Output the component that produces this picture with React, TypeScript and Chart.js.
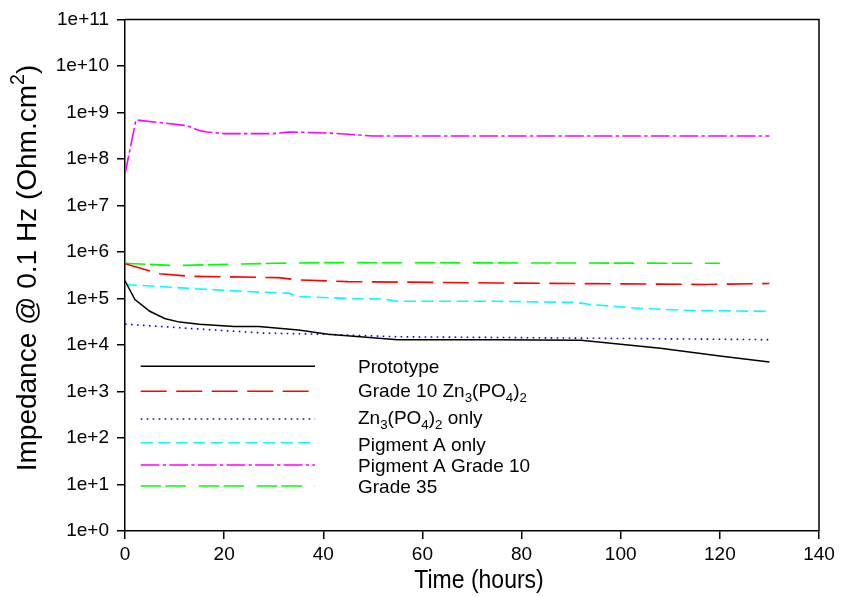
import React, { useEffect, useRef } from 'react';
import { Chart, registerables } from 'chart.js';

Chart.register(...registerables);

const FONT = '"Liberation Sans", Arial, Helvetica, sans-serif';

// ---- data (hours / impedance in Ohm.cm^2) ----
const protoHours = [0, 2, 5, 8, 11, 15, 22, 27, 35, 41, 55, 75, 92, 108, 120, 130];
const protoValues = [2.4e5, 9.5e4, 5.3e4, 3.7e4, 3.1e4, 2.8e4, 2.5e4, 2.5e4, 2.1e4, 1.7e4, 1.3e4, 1.3e4, 1.26e4, 8.5e3, 5.8e3, 4.3e3];

const grade10Hours = [0, 3, 7, 13, 31, 35, 45, 75, 117, 130];
const grade10Values = [5.6e5, 4.5e5, 3.4e5, 3.0e5, 2.8e5, 2.5e5, 2.3e5, 2.15e5, 2.0e5, 2.1e5];

const znHours = [0, 15, 28, 40, 55, 75, 130];
const znValues = [2.8e4, 2.2e4, 1.8e4, 1.7e4, 1.5e4, 1.45e4, 1.3e4];

const pigAHours = [0, 15, 28, 33, 35, 45, 52, 55, 75, 91, 94, 104, 114, 130];
const pigAValues = [2.0e5, 1.6e5, 1.35e5, 1.3e5, 1.1e5, 1.0e5, 9.7e4, 8.7e4, 8.7e4, 8.2e4, 7.4e4, 6.1e4, 5.5e4, 5.3e4];

const pigAG10Hours = [0, 2.2, 12.5, 15, 16.5, 20, 30, 33, 41, 45, 50, 130];
const pigAG10Values = [4.7e7, 6.9e8, 5.2e8, 4.1e8, 3.8e8, 3.5e8, 3.5e8, 3.8e8, 3.6e8, 3.4e8, 3.1e8, 3.1e8];

const grade35Hours = [0, 10, 30, 40, 120];
const grade35Values = [5.7e5, 5.1e5, 5.7e5, 5.9e5, 5.7e5];

const xTicks = [0, 20, 40, 60, 80, 100, 120, 140];
const yExponents = [0, 1, 2, 3, 4, 5, 6, 7, 8, 9, 10, 11];

type Seg = { t: string; sub?: boolean; sup?: boolean };

const seriesLabels: Seg[][] = [
  [{ t: 'Prototype' }],
  [{ t: 'Grade 10 Zn' }, { t: '3', sub: true }, { t: '(PO' }, { t: '4', sub: true }, { t: ')' }, { t: '2', sub: true }],
  [{ t: 'Zn' }, { t: '3', sub: true }, { t: '(PO' }, { t: '4', sub: true }, { t: ')' }, { t: '2', sub: true }, { t: ' only' }],
  [{ t: 'Pigment A only' }],
  [{ t: 'Pigment A Grade 10' }],
  [{ t: 'Grade 35' }],
];

const yTitle: Seg[] = [{ t: 'Impedance @ 0.1 Hz (Ohm.cm' }, { t: '2', sup: true }, { t: ')' }];
const xTitle = 'Time (hours)';

const pts = (xs: number[], ys: number[]) => xs.map((x, i) => ({ x, y: ys[i] }));

// legend layout
const LEG_LINE_X0 = 140.7;
const LEG_LINE_X1 = 315;
const LEG_TEXT_X = 358;
const LEG_LINE_Y = [366.3, 391.3, 419, 442.7, 465, 486];
const LEG_BASE_Y = [373.3, 396.7, 424, 450.7, 471.7, 492.7];

function drawSegs(ctx: CanvasRenderingContext2D, segs: Seg[], x: number, y: number, size: number, measureOnly = false) {
  let cx = x;
  for (const s of segs) {
    const small = s.sub || s.sup;
    const fs = small ? size * 0.7 : size;
    ctx.font = `${fs}px ${FONT}`;
    const dy = s.sub ? size * 0.27 : s.sup ? -size * 0.42 : 0;
    if (!measureOnly) ctx.fillText(s.t, cx, y + dy);
    cx += ctx.measureText(s.t).width;
  }
  return cx - x;
}

const decorPlugin = {
  id: 'decor',
  afterDraw(chart: any) {
    const ctx: CanvasRenderingContext2D = chart.ctx;
    const { left, right, top, bottom } = chart.chartArea;
    ctx.save();
    // frame top/right
    ctx.strokeStyle = '#000';
    ctx.lineWidth = 1.5;
    ctx.setLineDash([]);
    ctx.beginPath();
    ctx.moveTo(left, top);
    ctx.lineTo(right, top);
    ctx.lineTo(right, bottom);
    ctx.stroke();

    // legend
    chart.data.datasets.forEach((ds: any, i: number) => {
      ctx.save();
      ctx.strokeStyle = ds.borderColor;
      ctx.lineWidth = ds.borderWidth;
      ctx.setLineDash(ds.borderDash || []);
      ctx.beginPath();
      ctx.moveTo(LEG_LINE_X0, LEG_LINE_Y[i]);
      ctx.lineTo(LEG_LINE_X1, LEG_LINE_Y[i]);
      ctx.stroke();
      ctx.restore();
      ctx.fillStyle = '#000';
      ctx.textAlign = 'left';
      ctx.textBaseline = 'alphabetic';
      drawSegs(ctx, seriesLabels[i], LEG_TEXT_X, LEG_BASE_Y[i], 19);
    });

    // y title
    ctx.fillStyle = '#000';
    ctx.textAlign = 'left';
    ctx.textBaseline = 'alphabetic';
    const ySize = 28;
    const w = drawSegs(ctx, yTitle, 0, 0, ySize, true);
    ctx.save();
    ctx.translate(36, 268);
    ctx.rotate(-Math.PI / 2);
    drawSegs(ctx, yTitle, -w / 2, 0, ySize);
    ctx.restore();

    // x title
    ctx.save();
    ctx.font = `25px ${FONT}`;
    ctx.textAlign = 'center';
    ctx.translate((left + right) / 2 + 7, 588);
    ctx.scale(0.92, 1);
    ctx.fillText(xTitle, 0, 0);
    ctx.restore();
    ctx.restore();
  },
};

export default function App() {
  const ref = useRef<HTMLCanvasElement | null>(null);
  useEffect(() => {
    document.body.style.margin = '0';
    if (!ref.current) return;
    const common = { pointRadius: 0, tension: 0, fill: false, borderWidth: 1.6, borderCapStyle: 'butt' as const };
    const chart = new Chart(ref.current, {
      type: 'line',
      data: {
        datasets: [
          { ...common, label: 'Prototype', data: pts(protoHours, protoValues), borderColor: '#000000', borderWidth: 1.5, borderDash: [] },
          { ...common, label: 'Grade 10 Zn3(PO4)2', data: pts(grade10Hours, grade10Values), borderColor: '#FF0000', borderDash: [26, 9.5] },
          { ...common, label: 'Zn3(PO4)2 only', data: pts(znHours, znValues), borderColor: '#0000FF', borderDash: [1.6, 4.4] },
          { ...common, label: 'Pigment A only', data: pts(pigAHours, pigAValues), borderColor: '#00FFFF', borderDash: [12, 5.5] },
          { ...common, label: 'Pigment A Grade 10', data: pts(pigAG10Hours, pigAG10Values), borderColor: '#FF00FF', borderDash: [18.7, 3.3, 3.3, 3.3] },
          { ...common, label: 'Grade 35', data: pts(grade35Hours, grade35Values), borderColor: '#00FF00', borderDash: [20.5, 4.3, 20.5, 12.7] },
        ] as any,
      },
      options: {
        responsive: false,
        animation: false,
        parsing: false as any,
        layout: { padding: { top: 16, right: 30, left: 0, bottom: 0 } },
        plugins: { legend: { display: false }, tooltip: { enabled: false }, title: { display: false } },
        scales: {
          x: {
            type: 'linear',
            min: 0,
            max: 140,
            afterBuildTicks: (s: any) => { s.ticks = xTicks.map((v) => ({ value: v })); },
            afterFit: (s: any) => { s.height = 597 - 531; },
            ticks: { color: '#000', font: { family: FONT, size: 19 }, padding: 4, maxRotation: 0, autoSkip: false },
            grid: { drawOnChartArea: false, drawTicks: true, tickLength: 8, color: '#000', lineWidth: 1.5 },
            border: { display: true, color: '#000', width: 1.5 },
            title: { display: false },
          },
          y: {
            type: 'logarithmic',
            min: 1,
            max: 1e11,
            afterBuildTicks: (s: any) => { s.ticks = yExponents.map((e) => ({ value: Math.pow(10, e) })); },
            afterFit: (s: any) => { s.width = 125; },
            ticks: {
              color: '#000',
              font: { family: FONT, size: 19 },
              padding: 8,
              autoSkip: false,
              callback: (v: any) => '1e+' + Math.round(Math.log10(Number(v))),
            },
            grid: { drawOnChartArea: false, drawTicks: true, tickLength: 8, color: '#000', lineWidth: 1.5 },
            border: { display: true, color: '#000', width: 1.5 },
            title: { display: false },
          },
        },
      } as any,
      plugins: [decorPlugin],
    });
    return () => chart.destroy();
  }, []);
  return (
    <div style={{ width: 849, height: 597, background: '#fff' }}>
      <canvas ref={ref} width={849} height={597} style={{ display: 'block' }} />
    </div>
  );
}
